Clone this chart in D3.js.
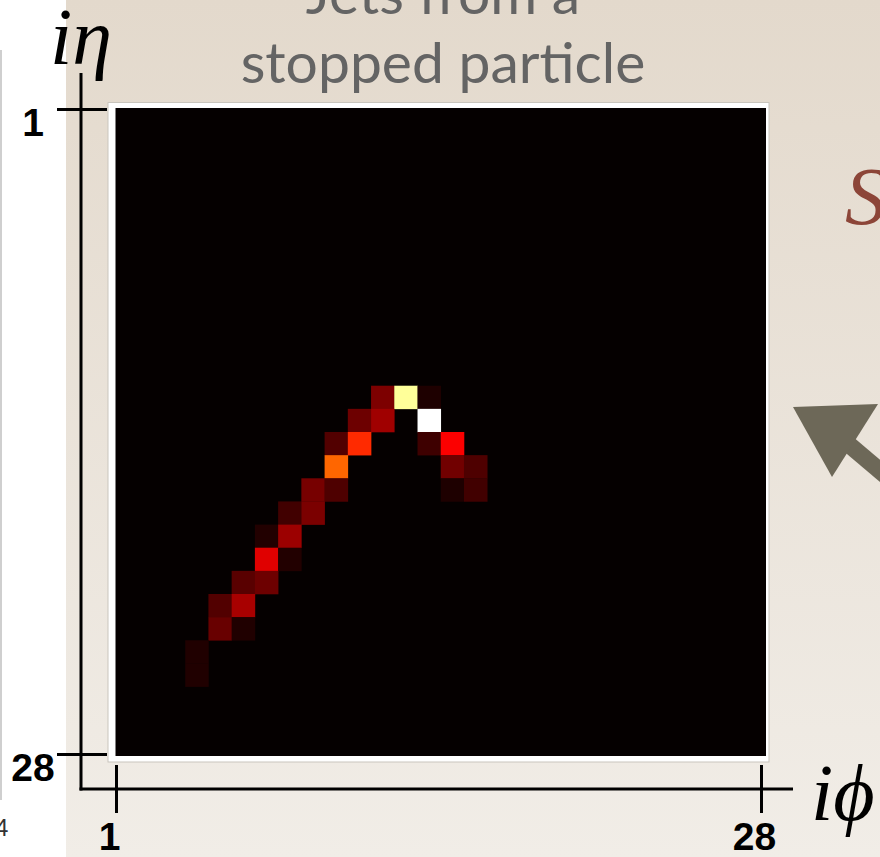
<!DOCTYPE html>
<html>
<head>
<meta charset="utf-8">
<script src="https://cdn.jsdelivr.net/npm/d3@7"></script>
<style>
  html, body { margin: 0; padding: 0; background: #fff; }
  svg { display: block; }
</style>
</head>
<body>
<svg id="chart" width="880" height="857"></svg>
<script>
// ---- data ----
const titleLines = ["Jets from a", "stopped particle"];
const etaTicks = [1, 28];
const phiTicks = [1, 28];
const etaBins = d3.range(1, 29);
const phiBins = d3.range(1, 29);
// non-empty towers: iη, iφ, normalised energy (hot colour scale)
const cellEta = [13, 13, 13, 14, 14, 14, 15, 15, 15, 15, 16, 16, 16, 17, 17, 17, 17, 18, 18, 19, 19, 20, 20, 21, 21, 22, 22, 23, 23, 24, 25];
const cellPhi = [12, 13, 14, 11, 12, 14, 10, 11, 14, 15, 10, 15, 16,  9, 10, 15, 16,  8,  9,  7,  8,  7,  8,  6,  7,  5,  6,  5,  6,  4,  4];
const cellE   = [0.175, 0.898, 0.037, 0.152, 0.226, 1.0, 0.113, 0.428, 0.083, 0.36, 0.517, 0.157, 0.106, 0.167, 0.106, 0.037, 0.087, 0.087, 0.172, 0.043, 0.22, 0.32, 0.043, 0.122, 0.152, 0.112, 0.238, 0.145, 0.04, 0.04, 0.04];

const svg = d3.select("#chart");
const W = 880, H = 857;

// ---- background ----
const defs = svg.append("defs");
const grad = defs.append("linearGradient").attr("id", "bg").attr("x1", 0).attr("y1", 0).attr("x2", 0).attr("y2", 1);
grad.append("stop").attr("offset", "0%").attr("stop-color", "#e3d9cc");
grad.append("stop").attr("offset", "100%").attr("stop-color", "#f1ede7");
svg.append("rect").attr("x", 0).attr("y", 0).attr("width", W).attr("height", H).attr("fill", "#fff");
svg.append("rect").attr("x", 66).attr("y", 0).attr("width", W - 66).attr("height", H).attr("fill", "url(#bg)");
svg.append("line").attr("x1", 1).attr("x2", 1).attr("y1", 50).attr("y2", 800).attr("stroke", "#cfcfcf").attr("stroke-width", 2);
svg.append("text").attr("x", -5).attr("y", 836).attr("font-family", "Liberation Sans, Arial, sans-serif")
  .attr("font-size", 24).attr("fill", "#333").text("4");

// ---- title ----
svg.selectAll("text.title").data(titleLines).enter().append("text")
  .attr("class", "title")
  .attr("x", 443).attr("y", (d, i) => 14 + i * 69)
  .attr("text-anchor", "middle")
  .attr("font-family", "Lato, 'Open Sans', sans-serif")
  .attr("font-size", 57).attr("fill", "#646464")
  .text(d => d);

// ---- heatmap ----
const x = d3.scaleBand().domain(phiBins).range([115.5, 766]).padding(0);
const y = d3.scaleBand().domain(etaBins).range([108, 756]).padding(0);
const color = d3.scaleLinear().domain([0, 0.365, 0.746, 1])
  .range(["#050000", "#ff0000", "#ffff00", "#ffffff"]).clamp(true);

svg.append("rect").attr("x", 108).attr("y", 102.5).attr("width", 661).attr("height", 659.5)
  .attr("fill", "#ffffff").attr("stroke", "#c9c5bd").attr("stroke-width", 1);
svg.append("rect").attr("x", x.range()[0]).attr("y", y.range()[0])
  .attr("width", x.range()[1] - x.range()[0]).attr("height", y.range()[1] - y.range()[0])
  .attr("fill", color(0));

const cells = cellEta.map((e, i) => ({ eta: e, phi: cellPhi[i], v: cellE[i] }));
svg.append("g").selectAll("rect").data(cells).enter().append("rect")
  .attr("x", d => x(d.phi)).attr("y", d => y(d.eta))
  .attr("width", x.bandwidth() + 0.3).attr("height", y.bandwidth() + 0.3)
  .attr("fill", d => color(d.v));

// ---- axes ----
const xa = d3.scaleLinear().domain([1, 28]).range([116, 761]);
const ya = d3.scaleLinear().domain([1, 28]).range([109, 754]);
const axisColor = "#000";
const gAx = svg.append("g");
gAx.append("line").attr("x1", 81).attr("x2", 81).attr("y1", 73).attr("y2", 790.5)
  .attr("stroke", axisColor).attr("stroke-width", 3);
gAx.append("line").attr("x1", 79.5).attr("x2", 793).attr("y1", 789).attr("y2", 789)
  .attr("stroke", axisColor).attr("stroke-width", 3);

const xAxis = d3.axisBottom(xa).tickValues(phiTicks).tickSize(48).tickPadding(0).tickFormat(d3.format("d"));
const gx = svg.append("g").attr("transform", "translate(0,765)").call(xAxis);
gx.select(".domain").remove();
gx.selectAll(".tick line").attr("stroke", axisColor).attr("stroke-width", 3);
gx.selectAll(".tick text").attr("y", 85).attr("dy", 0).attr("dx", -7)
  .attr("font-family", "Liberation Sans, Arial, sans-serif").attr("font-weight", "bold")
  .attr("font-size", 39).attr("fill", "#000");

const yAxis = d3.axisLeft(ya).tickValues(etaTicks).tickSize(50).tickPadding(0).tickFormat(d3.format("d"));
const gy = svg.append("g").attr("transform", "translate(107,0)").call(yAxis);
gy.select(".domain").remove();
gy.selectAll(".tick line").attr("stroke", axisColor).attr("stroke-width", 3);
gy.selectAll(".tick text").attr("x", -74).attr("dy", 26).attr("text-anchor", "middle")
  .attr("font-family", "Liberation Sans, Arial, sans-serif").attr("font-weight", "bold")
  .attr("font-size", 39).attr("fill", "#000");

// axis titles
svg.append("text").attr("x", 50).attr("y", 64)
  .attr("font-family", "'Liberation Serif', 'DejaVu Serif', serif").attr("font-style", "italic")
  .attr("font-size", 80).attr("fill", "#000").text("iη");
svg.append("text").attr("x", 811).attr("y", 820)
  .attr("font-family", "'Liberation Serif', 'DejaVu Serif', serif").attr("font-style", "italic")
  .attr("font-size", 80).attr("fill", "#000").text("iϕ");

// ---- right-side decorations ----
svg.append("text").attr("x", 845).attr("y", 224)
  .attr("font-family", "'Liberation Serif', serif").attr("font-style", "italic")
  .attr("font-size", 82).attr("fill", "#8c4538").text("S");
const arrowCol = "#6d6858";
svg.append("line").attr("x1", 840).attr("y1", 437).attr("x2", 905).attr("y2", 492)
  .attr("stroke", arrowCol).attr("stroke-width", 17);
svg.append("polygon").attr("points", "793,407 878,404 832,477").attr("fill", arrowCol);
</script>
</body>
</html>
